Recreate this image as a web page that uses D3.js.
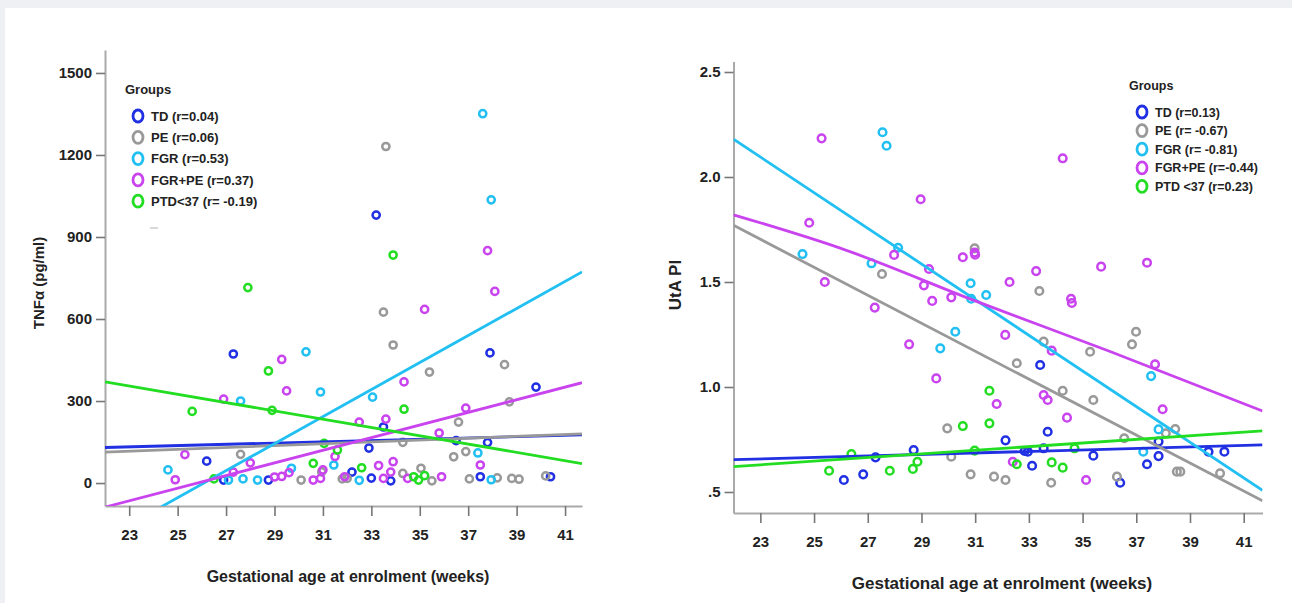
<!DOCTYPE html>
<html>
<head>
<meta charset="utf-8">
<script src="https://cdn.jsdelivr.net/npm/d3@7/dist/d3.min.js"></script>
<style>
body { margin: 0; background: #eef0f3; }
svg { display: block; }
text { font-family: "Liberation Sans", Arial, sans-serif; fill: #222; }
</style>
</head>
<body>
<svg id="chart" width="1292" height="603"></svg>
<script>
// tick labels
var weekTicks = [23, 25, 27, 29, 31, 33, 35, 37, 39, 41];
var tnfTicks = [0, 300, 600, 900, 1200, 1500];
var utaTicks = [0.5, 1.0, 1.5, 2.0, 2.5];

// groups + colours
var groupKeys = ['TD', 'PE', 'FGR', 'FGRPE', 'PTD'];
var groupColors = ['#2030e2', '#999999', '#22c0f2', '#c944ee', '#22dd22'];
var tnfLegend = ['TD (r=0.04)', 'PE (r=0.06)', 'FGR (r=0.53)', 'FGR+PE (r=0.37)', 'PTD<37 (r= -0.19)'];
var utaLegend = ['TD (r=0.13)', 'PE (r= -0.67)', 'FGR (r= -0.81)', 'FGR+PE (r=-0.44)', 'PTD <37 (r=0.23)'];

// TNFa panel: [weeks, pg/ml]
var tnfTD = [[26.2,80],[26.9,11],[27.3,472],[28.75,11],[32.2,40],[32.9,128],[33.0,18],[33.2,980],[33.5,205],[33.8,8],[36.5,155],[37.5,23],[37.8,148],[37.9,476],[39.8,351],[40.4,23]];
var tnfPE = [[27.6,105],[30.1,11],[30.95,41],[31.8,15],[32.0,17],[33.5,625],[33.6,1231],[33.9,505],[34.3,149],[34.3,35],[35.05,54],[35.4,406],[35.5,8],[36.4,96],[36.6,223],[36.9,115],[37.05,15],[38.2,19],[38.5,433],[38.7,297],[38.8,17],[39.1,14],[40.2,26]];
var tnfFGR = [[24.6,48],[27.1,11],[27.6,300],[27.7,15],[28.3,11],[29.7,54],[30.3,480],[30.9,333],[31.45,66],[32.5,10],[33.05,314],[37.4,110],[37.6,1351],[37.95,1036],[37.95,12]];
var tnfFGRPE = [[24.9,12],[25.3,104],[26.9,307],[27.3,40],[28.0,74],[29.0,22],[29.3,452],[29.3,24],[29.5,337],[29.6,38],[30.6,11],[30.9,17],[31.0,48],[31.5,97],[31.9,23],[32.5,223],[33.3,64],[33.5,17],[33.6,234],[33.8,40],[33.9,78],[34.35,370],[34.5,17],[35.2,635],[35.8,183],[35.9,23],[36.9,274],[37.5,66],[37.8,850],[38.1,701]];
var tnfPTD = [[25.6,262],[26.5,15],[27.9,715],[28.75,410],[28.9,266],[30.6,72],[31.05,145],[31.6,121],[32.6,56],[33.9,834],[34.35,270],[34.75,23],[34.95,11],[35.2,27]];

// TNFa fit lines
var tnfFitTD = [[22,130],[41.7,176]];
var tnfFitPE = [[22,113],[41.7,180]];
var tnfFitFGR = [[22,-202],[41.7,772]];
var tnfFitFGRPE = [[22,-88],[41.7,367]];
var tnfFitPTD = [[22,370],[41.7,71]];

// UtA PI panel: [weeks, PI]
var utaTD = [[26.11,0.557],[26.83,0.584],[27.29,0.665],[28.71,0.70],[32.13,0.746],[32.84,0.695],[32.96,0.692],[33.12,0.625],[33.42,1.105],[33.55,0.708],[33.7,0.787],[35.4,0.673],[36.4,0.544],[37.4,0.632],[37.83,0.671],[37.83,0.74],[39.69,0.692],[40.28,0.692]];
var utaPE = [[27.53,1.538],[29.96,0.803],[30.11,0.668],[30.83,0.584],[30.98,1.66],[31.7,0.573],[32.13,0.557],[32.55,1.113],[33.39,1.457],[33.55,1.216],[33.83,0.544],[34.26,0.982],[35.28,1.168],[35.4,0.938],[36.28,0.573],[36.55,0.756],[36.84,1.203],[36.99,1.263],[38.1,0.78],[38.45,0.80],[38.51,0.597],[38.64,0.597],[40.12,0.589]];
var utaFGR = [[24.57,1.633],[27.14,1.589],[27.55,2.213],[27.7,2.149],[28.13,1.663],[29.7,1.184],[30.26,1.263],[30.83,1.494],[30.85,1.42],[31.41,1.438],[37.26,0.692],[37.55,1.052],[37.83,0.798]];
var utaFGRPE = [[24.82,1.782],[25.28,2.184],[25.4,1.50],[27.26,1.378],[27.98,1.629],[28.54,1.203],[28.97,1.894],[29.09,1.484],[29.28,1.562],[29.4,1.41],[29.55,1.041],[30.11,1.427],[30.54,1.618],[30.98,1.64],[31.0,1.63],[31.8,0.919],[32.12,1.248],[32.28,1.50],[32.4,0.644],[33.27,1.552],[33.55,0.962],[33.7,0.938],[33.85,1.173],[34.26,2.089],[34.42,0.854],[34.57,1.42],[34.6,1.40],[35.13,0.557],[35.69,1.573],[37.4,1.592],[37.7,1.108],[37.98,0.894]];
var utaPTD = [[25.56,0.601],[26.39,0.681],[27.82,0.601],[28.68,0.61],[28.85,0.644],[30.54,0.814],[30.98,0.697],[31.53,0.982],[31.53,0.827],[32.55,0.632],[33.85,0.641],[34.26,0.616],[34.7,0.708]];

// UtA PI fit lines
var utaFitTD = [[22,0.654],[41.7,0.724]];
var utaFitPE = [[22,1.77],[41.7,0.458]];
var utaFitFGR = [[22,2.18],[41.7,0.508]];
var utaFitFGRPE = [[22,1.82],[26,1.66],[31,1.41],[36,1.17],[41.7,0.886]];
var utaFitPTD = [[22,0.621],[41.7,0.791]];

var svg = d3.select('#chart');

// white card
svg.append('rect').attr('x', 5).attr('y', 8).attr('width', 1287).attr('height', 595).attr('fill', '#fff');

function drawPanel(p) {
    var x = d3.scaleLinear().domain([22, 41.7]).range([p.left, p.right]);
    var y = d3.scaleLinear().domain(p.yDomain).range([p.bottom, p.top]);
    var g = svg.append('g');

    g.append('clipPath').attr('id', p.id + '-clip')
        .append('rect')
        .attr('x', p.left).attr('y', p.top)
        .attr('width', p.right - p.left).attr('height', p.bottom - p.top);

    // axes
    var yAxis = g.append('g')
        .attr('transform', 'translate(' + p.left + ',0)')
        .call(d3.axisLeft(y).tickValues(p.yTicks).tickFormat(p.yFormat).tickSize(9).tickSizeOuter(0).tickPadding(4));
    var xAxis = g.append('g')
        .attr('transform', 'translate(0,' + p.bottom + ')')
        .call(d3.axisBottom(x).tickValues(weekTicks).tickSize(10).tickSizeOuter(0).tickPadding(13));
    [yAxis, xAxis].forEach(function(a) {
        a.select('.domain').attr('stroke', '#aaa').attr('stroke-width', 2);
        a.selectAll('.tick line').attr('stroke', '#777').attr('stroke-width', 1.6);
        a.selectAll('.tick text').attr('fill', '#2a2a2a')
            .style('font-size', p.tickSize + 'px').style('font-weight', 'bold');
    });

    // axis titles
    g.append('text')
        .attr('x', p.xTitleX).attr('y', p.xTitleY)
        .attr('text-anchor', 'middle')
        .style('font-size', p.xTitleSize + 'px').style('font-weight', 'bold')
        .text('Gestational age at enrolment (weeks)');
    g.append('text')
        .attr('transform', 'translate(' + p.yTitleX + ',' + p.yTitleY + ') rotate(-90)')
        .attr('text-anchor', 'middle')
        .style('font-size', p.yTitleSize + 'px').style('font-weight', 'bold')
        .text(p.yTitle);

    // points
    var pts = g.append('g');
    p.points.forEach(function(arr, i) {
        pts.selectAll(null)
            .data(arr)
            .enter()
            .append('circle')
            .attr('cx', function(d) { return x(d[0]); })
            .attr('cy', function(d) { return y(d[1]); })
            .attr('r', p.dotR)
            .attr('fill', 'none')
            .attr('stroke', groupColors[i])
            .attr('stroke-width', 2.5);
    });

    // fit lines
    var line = d3.line()
        .x(function(d) { return x(d[0]); })
        .y(function(d) { return y(d[1]); })
        .curve(d3.curveMonotoneX);
    var fits = g.append('g').attr('clip-path', 'url(#' + p.id + '-clip)');
    p.fits.forEach(function(f, i) {
        fits.append('path')
            .attr('d', line(f))
            .attr('fill', 'none')
            .attr('stroke', groupColors[i])
            .attr('stroke-width', 2.8);
    });

    // legend
    var lg = g.append('g');
    lg.append('text')
        .attr('x', p.legX - 13).attr('y', p.legY - 22)
        .style('font-size', p.legSize + 'px').style('font-weight', 'bold').attr('fill', '#333')
        .text('Groups');
    p.legend.forEach(function(t, i) {
        var cy = p.legY + i * p.legStep;
        lg.append('ellipse')
            .attr('cx', p.legX).attr('cy', cy)
            .attr('rx', 5).attr('ry', 6)
            .attr('fill', 'none')
            .attr('stroke', groupColors[i])
            .attr('stroke-width', 2.8);
        lg.append('text')
            .attr('x', p.legX + 13).attr('y', cy + p.legSize * 0.36)
            .style('font-size', p.legSize + 'px').style('font-weight', 'bold').attr('fill', '#333')
            .text(t);
    });
    return lg;
}

var lgLeft = drawPanel({
    id: 'tnf', left: 105, right: 582, top: 50, bottom: 506,
    yDomain: [-84, 1584], yTicks: tnfTicks, yFormat: d3.format('d'),
    tickSize: 15, dotR: 3.6,
    xTitleX: 348, xTitleY: 582, xTitleSize: 16,
    yTitle: 'TNF\u03b1 (pg/ml)', yTitleX: 44, yTitleY: 283, yTitleSize: 15,
    points: [tnfTD, tnfPE, tnfFGR, tnfFGRPE, tnfPTD],
    fits: [tnfFitTD, tnfFitPE, tnfFitFGR, tnfFitFGRPE, tnfFitPTD],
    legend: tnfLegend, legX: 138, legY: 116, legStep: 21.3, legSize: 13
});
// stray mark under the legend in the original
lgLeft.append('line').attr('x1', 150).attr('x2', 158).attr('y1', 228).attr('y2', 228)
    .attr('stroke', '#ccc').attr('stroke-width', 1.5);

drawPanel({
    id: 'uta', left: 733.5, right: 1262.5, top: 61.5, bottom: 513,
    yDomain: [0.4, 2.55], yTicks: utaTicks,
    yFormat: function(d) { return d === 0.5 ? '.5' : d.toFixed(1); },
    tickSize: 15, dotR: 3.8,
    xTitleX: 1002, xTitleY: 589, xTitleSize: 17,
    yTitle: 'UtA PI', yTitleX: 681, yTitleY: 285, yTitleSize: 17,
    points: [utaTD, utaPE, utaFGR, utaFGRPE, utaPTD],
    fits: [utaFitTD, utaFitPE, utaFitFGR, utaFitFGRPE, utaFitPTD],
    legend: utaLegend, legX: 1142, legY: 112, legStep: 18.6, legSize: 12.5
});
</script>
</body>
</html>
